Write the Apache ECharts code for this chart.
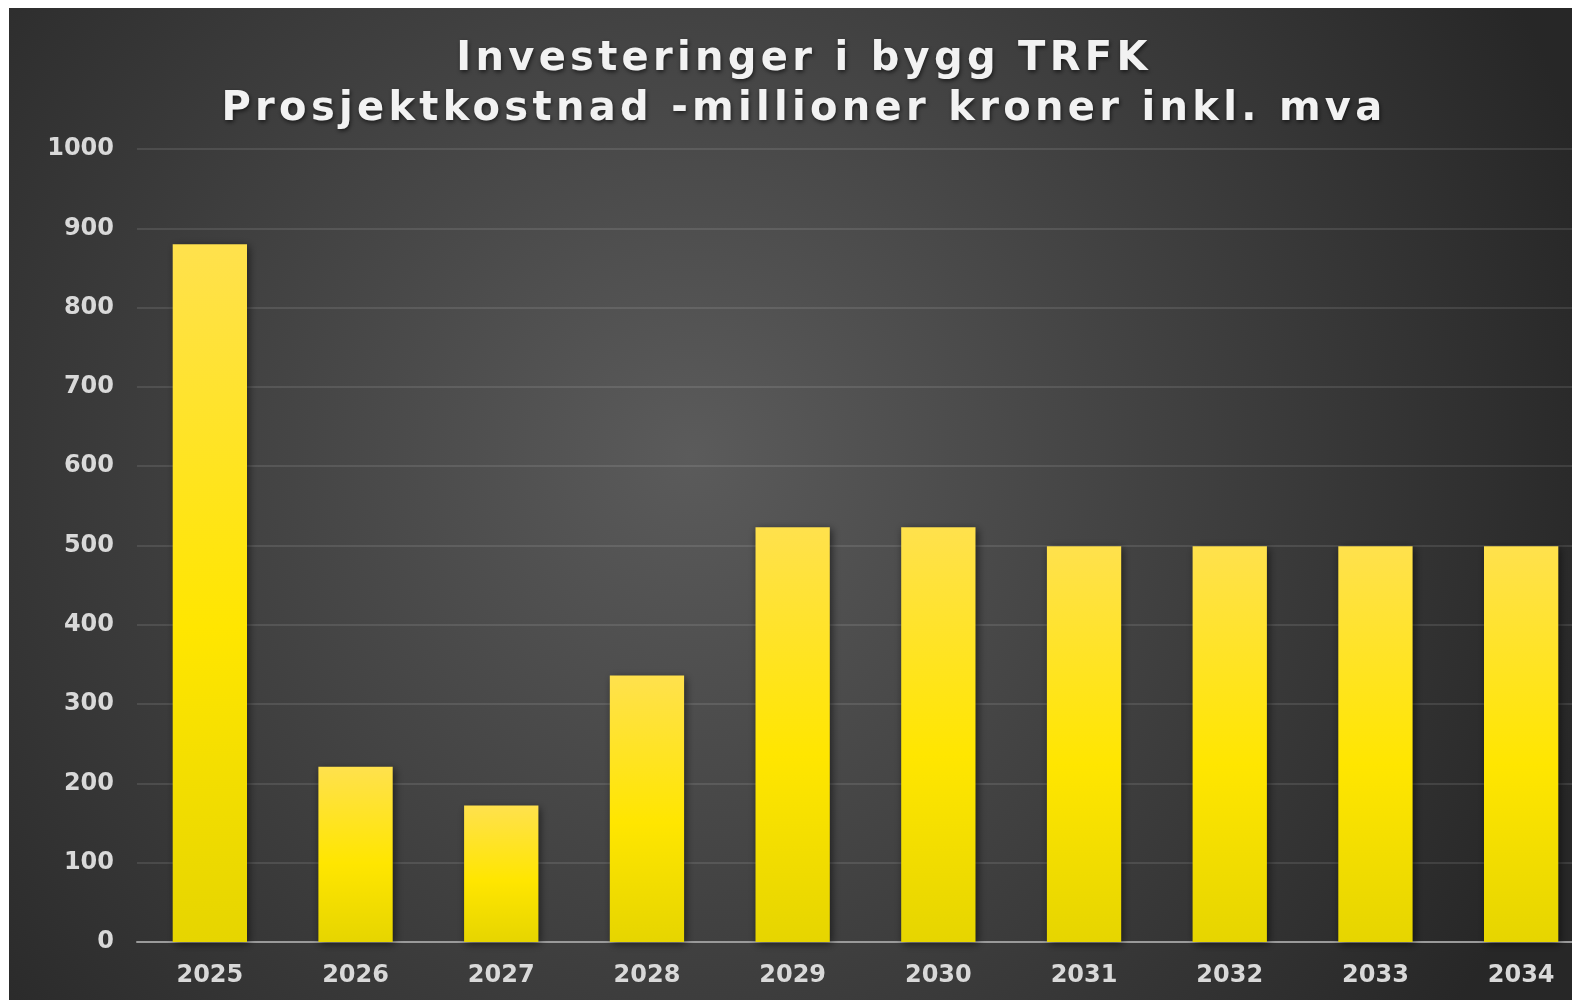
<!DOCTYPE html>
<html>
<head>
<meta charset="utf-8">
<script src="https://cdn.jsdelivr.net/npm/echarts@6/dist/echarts.min.js"></script>
<style>
html,body{margin:0;padding:0;background:#fff;overflow:hidden;width:1572px;height:1000px;}
#chart{position:absolute;left:9px;top:8px;width:1586px;height:992px;}
</style>
</head>
<body>
<div id="chart"></div>
<script>
const titleLines = ['Investeringer i bygg TRFK', 'Prosjektkostnad -millioner kroner inkl. mva'];
const years = ['2025','2026','2027','2028','2029','2030','2031','2032','2033','2034'];
const costs = [880, 221, 172, 336, 523, 523, 499, 499, 499, 499];
const yTicks = {min: 0, max: 1000, interval: 100};

// Excel-style expanded letter spacing for the title lines only
(function () {
  const proto = CanvasRenderingContext2D.prototype;
  const origFill = proto.fillText;
  proto.fillText = function (t, x, y, w) {
    if (titleLines.indexOf(t) >= 0 && 'letterSpacing' in this) {
      const prev = this.letterSpacing;
      this.letterSpacing = '4.3px';
      const r = w === undefined ? origFill.call(this, t, x + 2, y) : origFill.call(this, t, x + 2, y, w);
      this.letterSpacing = prev;
      return r;
    }
    return w === undefined ? origFill.call(this, t, x, y) : origFill.call(this, t, x, y, w);
  };
})();

const chart = echarts.init(document.getElementById('chart'));
const font = '"DejaVu Sans", Verdana, sans-serif';
chart.setOption({
  animation: false,
  backgroundColor: {
    type: 'radial', x: 0.43, y: 0.45, r: 0.95,
    colorStops: [
      {offset: 0, color: '#5b5b5b'},
      {offset: 1, color: '#272727'}
    ]
  },
  title: {
    text: titleLines.join('\n'),
    left: 'center',
    top: 22,
    textStyle: {
      color: '#f2f2f2', fontFamily: font, fontWeight: 'bold', fontSize: 40, lineHeight: 50,
      textShadowColor: 'rgba(0,0,0,0.6)', textShadowBlur: 4, textShadowOffsetX: 1, textShadowOffsetY: 2
    }
  },
  grid: {left: 128, right: 1, top: 141, bottom: 58, containLabel: false},
  xAxis: {
    type: 'category',
    data: years,
    axisLine: {show: true, lineStyle: {color: '#9a9a9a', width: 2}},
    axisTick: {show: false},
    axisLabel: {color: '#d9d9d9', fontFamily: font, fontWeight: 'bold', fontSize: 24, margin: 22}
  },
  yAxis: {
    type: 'value',
    min: yTicks.min, max: yTicks.max, interval: yTicks.interval,
    axisLine: {show: false},
    axisTick: {show: false},
    splitLine: {lineStyle: {color: 'rgba(255,255,255,0.1)', width: 2}},
    axisLabel: {
      color: '#d9d9d9', fontFamily: font, fontWeight: 'bold', fontSize: 24, margin: 23,
      padding: [4, 0, 0, 0],
      formatter: function (v) { return String(v); }
    }
  },
  series: [{
    type: 'bar',
    data: costs,
    barCategoryGap: '49%',
    itemStyle: {
      color: {
        type: 'linear', x: 0, y: 0, x2: 0, y2: 1,
        colorStops: [
          {offset: 0, color: '#ffe14d'},
          {offset: 0.55, color: '#ffe600'},
          {offset: 1, color: '#e6d500'}
        ]
      },
      shadowColor: 'rgba(0,0,0,0.55)', shadowBlur: 8, shadowOffsetX: 2, shadowOffsetY: 2
    }
  }]
});
</script>
</body>
</html>
